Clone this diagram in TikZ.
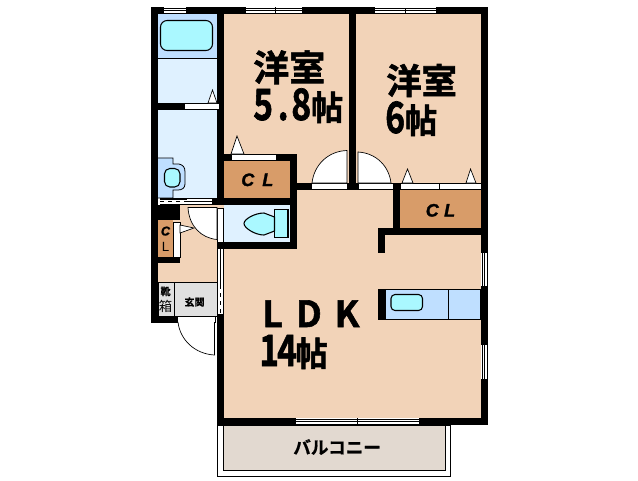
\documentclass[tikz,border=0pt]{standalone}
\usepackage{fontspec}
\newfontfamily\cjkb[FakeBold=1.6]{Noto Sans CJK JP Bold}
\newfontfamily\cjkm[FakeBold=0.8]{Noto Sans CJK JP Bold}
\newfontfamily\cjkt{Noto Sans CJK TC}
\setmainfont{Liberation Sans}
\newfontfamily\latb[FakeBold=1.5]{Liberation Sans Bold Italic}
\definecolor{peach}{HTML}{F2D3B8}
\definecolor{closet}{HTML}{D89C69}
\definecolor{wash}{HTML}{DFF1FF}
\definecolor{bathc}{HTML}{BFDFFF}
\definecolor{aqua}{HTML}{AAF8FF}
\definecolor{genkan}{HTML}{E0E0E0}
\definecolor{balc}{HTML}{E2D9D0}
\tikzset{
 wall/.style={fill=black,draw=none},
 fix/.style={draw=black,line width=0.8pt,fill=aqua},
 swing/.style={draw=black,line width=0.5pt,fill=white},
 wintxt/.style={inner sep=0pt,text=black},
 big/.style={inner sep=0pt,anchor=base west,text=black},
}
\newcommand{\hwin}[3]{% x1 x2 y
 \fill[white] (#1,#3) rectangle (#2,#3+7);
 \draw[black,line width=0.5pt] (#1,#3+1) -- (#2,#3+1) (#1,#3+3.5) -- (#2,#3+3.5) (#1,#3+6) -- (#2,#3+6);}
\newcommand{\vwin}[3]{% y1 y2 x
 \fill[white] (#3,#1) rectangle (#3+7,#2);
 \draw[black,line width=0.5pt] (#3+1,#1) -- (#3+1,#2) (#3+3.5,#1) -- (#3+3.5,#2) (#3+6,#1) -- (#3+6,#2);}
\newcommand{\tallnum}[1]{\scalebox{1.05}[1.35]{\fontsize{24pt}{24pt}\cjkb #1}}
\newcommand{\tallkan}{\scalebox{1.0}[1.05]{\fontsize{24pt}{24pt}\cjkb 帖}}
\begin{document}
\begin{tikzpicture}[x=0.75pt,y=-0.75pt]
\useasboundingbox (0,0) rectangle (638,480);
% balcony
\draw[black,line width=0.6pt,fill=white] (217.5,425) rectangle (450,476.5);
\draw[black,line width=0.6pt,fill=balc] (223,425) rectangle (445,470);
% main floor
\fill[peach] (224,14) rectangle (481,418);
\fill[peach] (158,205) rectangle (224,282);
% wet rooms
\fill[bathc] (158,14) rectangle (217,58);
\fill[wash] (158,58) rectangle (217,198);
\draw[black,line width=0.6pt] (158,58.5) -- (217,58.5);
% tub
\draw[fix,rounded corners=5pt] (160.5,20.5) rectangle (212.5,50.5);
% basin
\draw[black,line width=0.6pt,fill=bathc] (158,158) -- (173,158) -- (173,164) -- (179,164) .. controls (183,165) and (185,167) .. (185,172) -- (185,184) .. controls (185,188) and (182,190) .. (178,190) -- (173,190) -- (173,198) -- (158,198);
\draw[fix,rounded corners=4pt] (164.5,168.5) rectangle (180,187);
% closets and WC
\fill[closet] (224,161) rectangle (290,198);
\fill[closet] (400,190) rectangle (481,228);
\fill[closet] (158,220) rectangle (173,257);
\fill[wash] (224,205) rectangle (290,242);
\draw[fix] (274.5,209.5) rectangle (288,237.5);
\draw[fix] (274.5,217) -- (264,213) .. controls (255,213) and (244,219) .. (244,223.5) .. controls (244,228) and (255,235) .. (264,235) -- (274.5,231) -- cycle;
% genkan
\draw[black,line width=0.6pt,fill=genkan] (158,282.5) rectangle (217,316);
\draw[black,line width=0.6pt] (174,282.5) -- (174,316);
% kitchen
\draw[black,line width=0.8pt,fill=bathc] (385,289.5) rectangle (481,319.5);
\draw[black,line width=0.6pt] (448.5,289.5) -- (448.5,319.5);
\draw[fix,rounded corners=3pt] (391,294.5) rectangle (422.5,310.5);
% walls
\fill[wall] (151,7) rectangle (488,14);
\fill[wall] (151,7) rectangle (158,323);
\fill[wall] (481,7) rectangle (488,425);
\fill[wall] (217,7) rectangle (224,205);
\fill[wall] (349,14) rectangle (356,190);
\fill[wall] (217,154) rectangle (297,161);
\fill[wall] (290,154) rectangle (297,249);
\fill[wall] (212,198) rectangle (297,205);
\fill[wall] (217,242) rectangle (297,249);
\fill[wall] (297,183) rectangle (400,190);
\fill[wall] (393,183) rectangle (400,235);
\fill[wall] (378,228) rectangle (488,235);
\fill[wall] (378,228) rectangle (385,253);
\fill[wall] (378,289) rectangle (385,320);
\fill[wall] (158,103) rectangle (217,110);
\fill[wall] (151,205) rectangle (180,220);
\fill[wall] (151,257) rectangle (180,263);
\fill[wall] (151,316) rectangle (177,323);
\fill[wall] (217,314) rectangle (224,425);
\fill[wall] (217,418) rectangle (488,425);
% top windows
\hwin{164}{186}{7}
\hwin{246}{302}{7}
\draw[black,line width=0.5pt] (275,7) -- (275,14);
\hwin{375}{436}{7}
\draw[black,line width=0.5pt] (405.5,8) -- (405.5,13);
% right windows
\vwin{253}{286}{481}
\vwin{345}{379}{481}
% bottom window
\hwin{296}{419}{418}
\draw[black,line width=0.5pt] (357.5,418) -- (357.5,425);
% left wall of LDK window
\fill[white] (217,249) rectangle (223.5,314);
\draw[black,line width=0.5pt] (217.3,249) -- (217.3,314) (223.5,249) -- (223.5,314);
\draw[black,line width=0.5pt] (220.3,249) -- (220.3,285);
\draw[black,line width=0.5pt,dashed] (220.3,285) -- (220.3,314);
% white strips
\draw[black,line width=0.4pt,fill=white] (184,103.5) rectangle (219,109.5);
\draw[black,line width=0.4pt,fill=white] (231,154.5) rectangle (276,160.5);
\draw[black,line width=0.4pt,fill=white] (311,183.5) rectangle (347,189.5);
\draw[black,line width=0.4pt,fill=white] (358,183.5) rectangle (393,189.5);
\draw[black,line width=0.4pt,fill=white] (400,183.5) rectangle (481,189.5);
\draw[black,line width=0.5pt] (439.5,184) -- (439.5,190);
\draw[black,line width=0.4pt,fill=white] (173.5,222) rectangle (180,257);
\draw[black,line width=0.4pt,fill=white] (217.5,208) rectangle (223.5,242);
\draw[black,line width=0.4pt,fill=white] (177,316.5) rectangle (215,322);
% wash/hall partition
\fill[white] (160,198) rectangle (212,205);
\draw[black,line width=0.6pt] (160,198.5) -- (212,198.5);
\draw[black,line width=0.6pt] (160,204.5) -- (212,204.5);
\draw[black,line width=1pt,dashed] (160,201.5) -- (187,201.5);
\fill[black] (160,198) rectangle (187,200);
\draw[black,line width=0.6pt] (187,201.5) -- (212,201.5);
% closet door triangles
\draw[swing] (231,154) -- (237,136) -- (244,154) -- cycle;
\draw[swing] (402,183) -- (407.5,169) -- (413,183) -- cycle;
\draw[swing] (466,183) -- (470.5,169) -- (476,183) -- cycle;
\draw[swing] (208,103) -- (212.5,90) -- (217,103) -- cycle;
\draw[swing] (180,225) -- (194,228) -- (180,233) -- cycle;
% door swings
\draw[swing] (347,183) -- (347,150.5) .. controls (328,151) and (314,165) .. (312,183) -- cycle;
\draw[swing] (358,183) -- (358,152) .. controls (376,153) and (389,166) .. (391,183) -- cycle;
\draw[swing] (217,207.5) -- (188,207.5) .. controls (189,226) and (201,238) .. (217,239.5) -- cycle;
\draw[swing] (214.5,322) -- (214.5,355) .. controls (195,354) and (180,340) .. (178,322);
% labels
\node[big] (r1a) at (253,81) {\fontsize{27pt}{27pt}\cjkb 洋室};
\node[big] (r1b) at (253,120) {\tallnum{5}\hspace{3.5pt}\tallnum{.}\hspace{2pt}\tallnum{8}\hspace{0pt}\tallkan};
\node[big] (r2a) at (386,94) {\fontsize{26.5pt}{27pt}\cjkb 洋室};
\node[big] (r2b) at (385,133) {\tallnum{6}\hspace{0pt}\tallkan};
\node[big] (ldk) at (262,327) {\fontsize{27pt}{27pt}\cjkb L\hspace{0.36em}D\hspace{0.36em}K};
\node[big] (r3b) at (259,366) {\tallnum{1}\hspace{-1.5pt}\tallnum{4}\hspace{-1pt}\tallkan};
\node[big] (c1) at (241,186) {\fontsize{13.5pt}{14pt}\latb C\hspace{0.45em}L};
\node[big] (c2) at (425.5,216.5) {\fontsize{13.5pt}{14pt}\latb C\hspace{0.3em}L};
\node[wintxt,align=center] (c3) at (165.5,239) {\fontsize{9.5pt}{10.5pt}\latb C\\L};
\node[big] (bal) at (293,454) {\fontsize{13.2pt}{14pt}\cjkm バルコニー};
\node[wintxt] (gk) at (194.5,302) {\fontsize{7.5pt}{8pt}\cjkm 玄関};
\node[wintxt,align=center] (kb) at (165.5,299.5) {\fontsize{7.5pt}{9pt}\cjkm 靴\\{\cjkt ^^^^7bb1}};
\end{tikzpicture}
\end{document}
